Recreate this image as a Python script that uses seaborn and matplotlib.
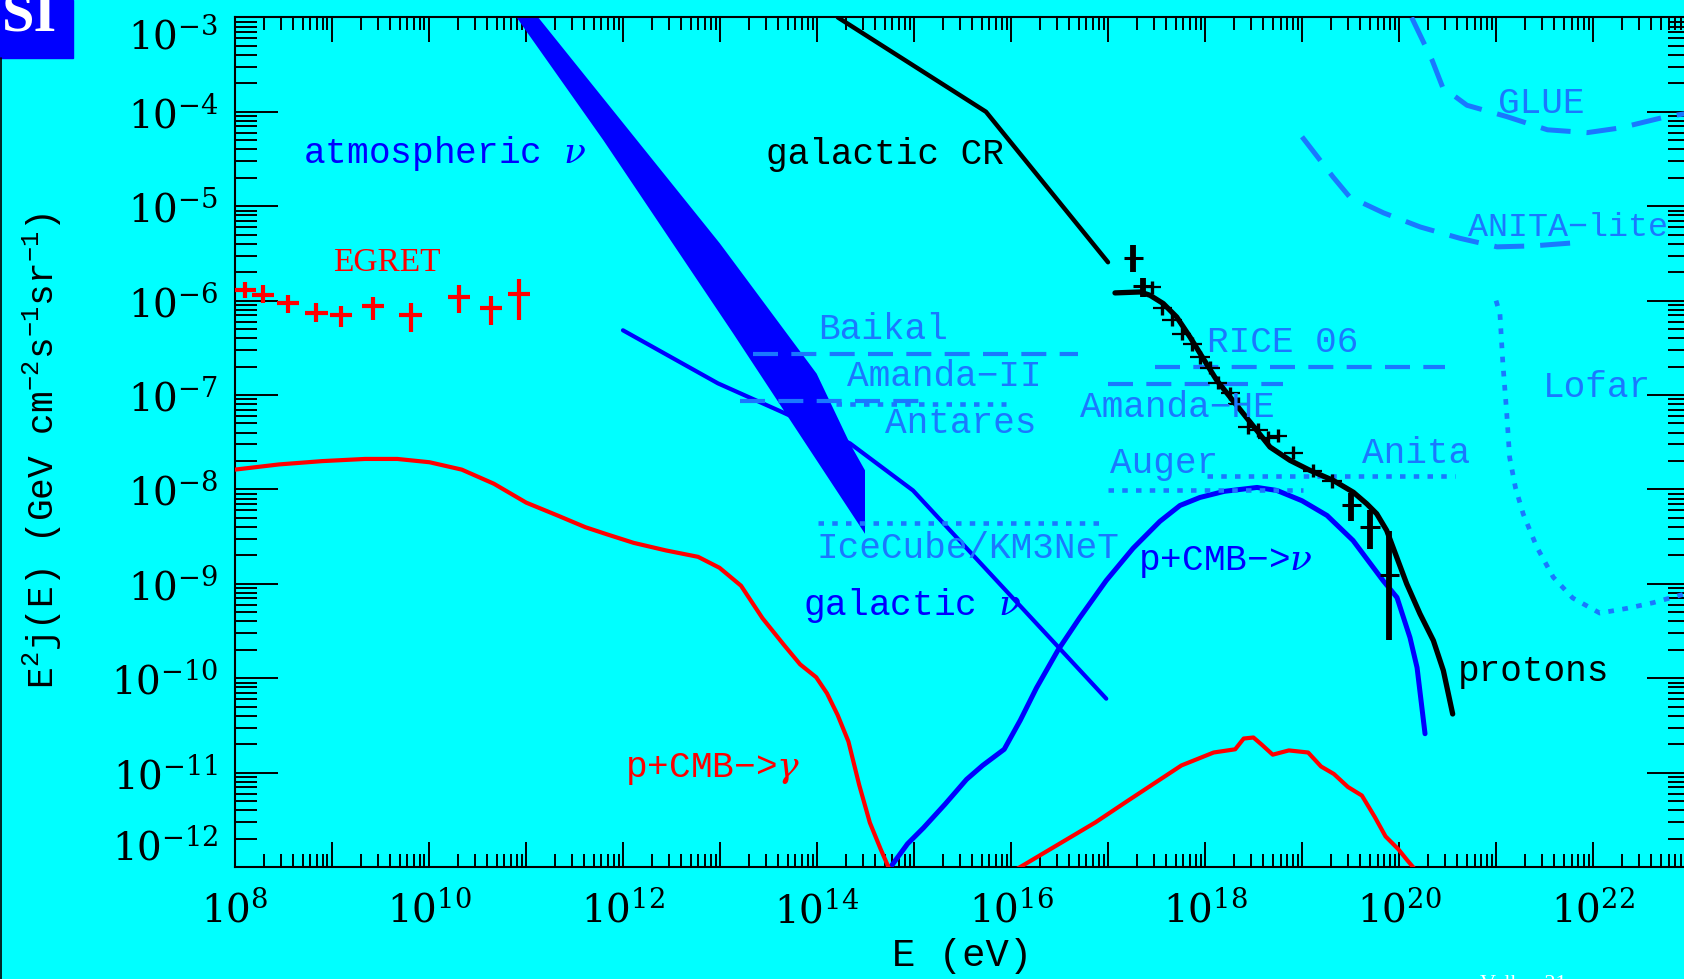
import matplotlib
matplotlib.use("Agg")
import matplotlib.pyplot as plt
import matplotlib.ticker as mticker
from matplotlib.patches import Rectangle
from matplotlib.lines import Line2D
import numpy as np
import pandas as pd
import seaborn as sns

# ------------------------------------------------------------------
# Data: log10 E [eV]  and  log10 E^2 j(E) [GeV cm^-2 s^-1 sr^-1]
# ------------------------------------------------------------------
# atmospheric neutrino band (upper / lower boundary)
atm_up_logE = [11.127, 13.0, 13.997, 14.340, 14.495, 14.495]
atm_up_logF = [-3.0, -5.395, -6.774, -7.515, -7.798, -8.47]
atm_lo_logE = [10.904, 11.797, 13.137, 14.495]
atm_lo_logF = [-3.0, -4.299, -6.349, -8.47]

# galactic neutrinos
galnu_logE = [12.0, 12.979, 13.649, 14.340, 14.990, 16.982]
galnu_logF = [-6.314, -6.876, -7.184, -7.512, -8.011, -10.217]

# galactic cosmic rays
galcr_logE = [14.216, 15.742, 17.0]
galcr_logF = [-3.0, -3.999, -5.593]

# extragalactic protons
prot_logE = [17.072, 17.330, 17.433, 17.570, 17.708, 17.845, 17.982, 18.121,
             18.258, 18.395, 18.533, 18.670, 18.876, 19.082, 19.323, 19.529,
             19.667, 19.770, 19.873, 19.976, 20.079, 20.216, 20.354, 20.457,
             20.553]
prot_logF = [-5.918, -5.908, -5.943, -6.031, -6.173, -6.385, -6.614, -6.844,
             -7.021, -7.197, -7.374, -7.551, -7.692, -7.798, -7.905, -8.03,
             -8.152, -8.258, -8.435, -8.718, -9.0, -9.318, -9.601, -9.919,
             -10.379]

# cosmogenic neutrinos  p + CMB -> nu
cmbnu_logE = [14.745, 14.933, 15.099, 15.321, 15.542, 15.708, 15.930, 16.096,
              16.262, 16.483, 16.705, 16.982, 17.259, 17.535, 17.742, 17.948,
              18.200, 18.536, 18.742, 19.0, 19.258, 19.526, 19.835, 19.979,
              20.113, 20.186, 20.268]
cmbnu_logF = [-12.02, -11.755, -11.584, -11.334, -11.072, -10.924, -10.753,
              -10.445, -10.104, -9.705, -9.364, -8.965, -8.623, -8.338, -8.17,
              -8.085, -8.02, -7.979, -8.011, -8.12, -8.276, -8.541, -8.965,
              -9.145, -9.57, -9.888, -10.588]

# photons from cascades (low-energy branch)  p + CMB -> gamma
cmbg1_logE = [8.0, 8.456, 8.899, 9.342, 9.674, 10.006, 10.338, 10.670, 11.003,
              11.335, 11.612, 11.833, 12.110, 12.442, 12.774, 12.995, 13.217,
              13.438, 13.660, 13.826, 13.992, 14.103, 14.213, 14.324, 14.435,
              14.545, 14.656, 14.745]
cmbg1_logF = [-7.79, -7.735, -7.70, -7.677, -7.677, -7.712, -7.79, -7.94,
              -8.14, -8.28, -8.40, -8.475, -8.566, -8.646, -8.714, -8.83,
              -9.02, -9.364, -9.648, -9.853, -9.99, -10.16, -10.39, -10.67,
              -11.13, -11.53, -11.81, -12.02]

# photons, high-energy branch
cmbg2_logE = [16.063, 16.871, 17.203, 17.757, 18.089, 18.311, 18.399, 18.499,
              18.588, 18.698, 18.864, 19.063, 19.196, 19.329, 19.473, 19.617,
              19.750, 19.861, 19.993, 20.082, 20.160]
cmbg2_logF = [-12.02, -11.527, -11.299, -10.924, -10.787, -10.753, -10.639,
              -10.628, -10.707, -10.81, -10.765, -10.787, -10.935, -11.015,
              -11.152, -11.243, -11.47, -11.676, -11.812, -11.925, -12.02]

# EGRET diffuse gamma-ray points
egret_logE = [8.10, 8.29, 8.55, 8.84, 9.09, 9.42, 9.81, 10.31, 10.64, 10.93]
egret_logF = [-5.890, -5.943, -6.028, -6.134, -6.155, -6.059, -6.155, -5.964,
              -6.080, -5.932]
egret_hi = [-5.805, -5.837, -5.943, -6.028, -6.059, -5.964, -6.028, -5.837,
            -5.953, -5.773]
egret_lo = [-5.975, -6.028, -6.134, -6.229, -6.282, -6.208, -6.335, -6.134,
            -6.261, -6.208]

# cosmic ray flux measurements (fine crosses)
cra_logE = [17.45, 17.56, 17.66, 17.76, 17.87, 17.95, 18.05, 18.13, 18.26,
            18.34, 18.44, 18.55, 18.65, 18.75, 18.91, 19.11, 19.31]
cra_logF = [-5.86, -6.08, -6.20, -6.35, -6.46, -6.60, -6.71, -6.87, -6.98,
            -7.09, -7.34, -7.37, -7.45, -7.43, -7.61, -7.80, -7.91]
cra_hi = [-5.79, -6.01, -6.13, -6.28, -6.39, -6.53, -6.64, -6.80, -6.91,
          -7.02, -7.27, -7.30, -7.38, -7.36, -7.54, -7.73, -7.84]
cra_lo = [-5.93, -6.15, -6.27, -6.42, -6.53, -6.67, -6.78, -6.94, -7.05,
          -7.16, -7.41, -7.44, -7.52, -7.50, -7.68, -7.87, -7.98]

# cosmic ray flux measurements (bold crosses)
crb_logE = [17.26, 17.36, 19.51, 19.70, 19.90]
crb_logF = [-5.55, -5.84, -8.17, -8.40, -8.91]
crb_hi = [-5.41, -5.76, -8.04, -8.22, -8.44]
crb_lo = [-5.70, -5.96, -8.33, -8.63, -9.60]

# experimental sensitivities: horizontal limits (E range, level)
baikal_logE, baikal_logF = [13.34, 16.69], -6.561
amanda2_logE, amanda2_logF = [13.21, 15.10], -7.065
antares_logE, antares_logF = [14.20, 15.95], -7.100
icecube_logE, icecube_logF = [14.01, 16.98], -8.360
rice_logE, rice_logF = [17.485, 20.47], -6.703
amandahe_logE, amandahe_logF = [17.0, 18.80], -6.887
auger_logE, auger_logF = [17.0, 19.01], -8.003
anita_logE, anita_logF = [18.02, 20.58], -7.862

# experimental sensitivities: curved limits
glue_logE = [20.13, 20.34, 20.45, 20.70, 21.11, 21.53, 21.94, 22.28, 22.76, 22.95]
glue_logF = [-3.0, -3.45, -3.74, -3.93, -4.05, -4.19, -4.22, -4.17, -4.05, -4.02]
anitalite_logE = [19.0, 19.11, 19.32, 19.49, 19.84, 20.22, 20.63, 21.01, 21.38, 21.90]
anitalite_logF = [-4.264, -4.41, -4.69, -4.90, -5.07, -5.22, -5.34, -5.43, -5.42, -5.38]
lofar_logE = [21.0, 21.04, 21.07, 21.11, 21.14, 21.20, 21.28, 21.42, 21.59,
              21.79, 22.07, 22.35, 22.62, 22.90, 23.0]
lofar_logF = [-6.0, -6.137, -6.66, -7.19, -7.66, -7.98, -8.26, -8.61, -8.93,
              -9.15, -9.31, -9.26, -9.20, -9.12, -9.09]

xtick_exponents = list(range(8, 24))
xlabel_exponents = [8, 10, 12, 14, 16, 18, 20, 22]
ytick_exponents = list(range(-12, -2))

# ------------------------------------------------------------------
# Styling
# ------------------------------------------------------------------
sns.set_theme(style="ticks")
plt.rcParams["font.family"] = ["Liberation Mono", "DejaVu Sans"]
plt.rcParams["mathtext.fontset"] = "dejavuserif"
plt.rcParams["mathtext.default"] = "regular"

CYAN = "#00ffff"
BLUE = "#0000ff"
RED = "#ff0000"
LIM = "#1a78ff"
DASH = (0, (6, 3.2))
DOT = (0, (1.2, 1.8))
FS = 26

fig = plt.figure(figsize=(16.84, 9.7905), dpi=100, facecolor=CYAN)
ax = fig.add_axes([0.1395, 0.1144, 0.8641, 0.8677])
ax.set_facecolor(CYAN)
ax.set_xscale("log")
ax.set_yscale("log")
ax.set_xlim(1e8, 1e23)
ax.set_ylim(1e-12, 1e-3)


def p10(v):
    return 10.0 ** np.asarray(v, dtype=float)


def curve(logE, logF, color, lw, z=3):
    df = pd.DataFrame({"E": p10(logE), "F": p10(logF)})
    sns.lineplot(data=df, x="E", y="F", ax=ax, sort=False, estimator=None,
                 color=color, linewidth=lw, legend=False, zorder=z)


def limit(logE, logF, ls, lw=3.0):
    ax.plot(p10(logE), p10([logF, logF]), color=LIM, lw=lw, ls=ls,
            dash_capstyle="butt", zorder=4)


def crosses(logE, logF, hi, lo, color, xw, yw, half=0.1):
    E = p10(logE)
    F = p10(logF)
    xerr = [E - E * 10 ** (-half), E * 10 ** half - E]
    yerr = [F - p10(lo), p10(hi) - F]
    ax.errorbar(E, F, xerr=xerr, fmt="none", ecolor=color, elinewidth=xw,
                capsize=0, zorder=6)
    ax.errorbar(E, F, yerr=yerr, fmt="none", ecolor=color, elinewidth=yw,
                capsize=0, zorder=6)


# atmospheric neutrino band
ax.fill(np.concatenate([p10(atm_up_logE), p10(atm_lo_logE)[::-1]]),
        np.concatenate([p10(atm_up_logF), p10(atm_lo_logF)[::-1]]),
        color=BLUE, lw=0, zorder=2)

curve(galnu_logE, galnu_logF, BLUE, 3.0)
curve(cmbnu_logE, cmbnu_logF, BLUE, 3.6)
curve(cmbg1_logE, cmbg1_logF, RED, 3.0)
curve(cmbg2_logE, cmbg2_logF, RED, 3.0)
curve(galcr_logE, galcr_logF, "black", 3.2, z=5)
curve(prot_logE, prot_logF, "black", 3.8, z=5)

# sensitivities
limit(baikal_logE, baikal_logF, DASH)
limit(amanda2_logE, amanda2_logF, DASH)
limit(antares_logE, antares_logF, DOT, lw=3.3)
limit(icecube_logE, icecube_logF, DOT, lw=3.3)
limit(rice_logE, rice_logF, DASH)
limit(amandahe_logE, amandahe_logF, DASH)
limit(auger_logE, auger_logF, DOT, lw=3.3)
limit(anita_logE, anita_logF, DOT, lw=3.3)
ax.plot(p10(glue_logE), p10(glue_logF), color=LIM, lw=3.6, ls=DASH, zorder=4)
ax.plot(p10(anitalite_logE), p10(anitalite_logF), color=LIM, lw=3.6, ls=DASH, zorder=4)
ax.plot(p10(lofar_logE), p10(lofar_logF), color=LIM, lw=3.4, ls=DOT, zorder=4)

# data points
crosses(egret_logE, egret_logF, egret_hi, egret_lo, RED, 3.0, 3.0, half=0.115)
crosses(cra_logE, cra_logF, cra_hi, cra_lo, "black", 1.6, 2.4, half=0.1)
crosses(crb_logE, crb_logF, crb_hi, crb_lo, "black", 2.2, 4.2, half=0.1)

# annotations: text, log E, log F, colour, font size
labels = [
    ("atmospheric $\\mathit{\\nu}$", 8.70, -4.44, BLUE, FS),
    ("galactic CR", 13.47, -4.45, "black", FS),
    ("Baikal", 14.01, -6.30, LIM, FS),
    ("Amanda\u2212II", 14.31, -6.80, LIM, FS),
    ("Antares", 14.70, -7.30, LIM, FS),
    ("IceCube/KM3NeT", 14.00, -8.62, LIM, FS),
    ("galactic $\\mathit{\\nu}$", 13.86, -9.23, BLUE, FS),
    ("p+CMB\u2212>$\\mathit{\\nu}$", 17.31, -8.77, BLUE, FS),
    ("p+CMB\u2212>$\\mathit{\\gamma}$", 12.02, -10.96, RED, FS),
    ("protons", 20.61, -9.93, "black", FS),
    ("RICE 06", 18.02, -6.44, LIM, FS),
    ("Amanda\u2212HE", 16.71, -7.13, LIM, FS),
    ("Auger", 17.02, -7.72, LIM, FS),
    ("Anita", 19.62, -7.62, LIM, FS),
    ("GLUE", 21.02, -3.91, LIM, FS),
    ("ANITA\u2212lite", 20.71, -5.22, LIM, 24),
    ("Lofar", 21.48, -6.92, LIM, FS),
]
for text, lx, ly, col, size in labels:
    ax.text(10 ** lx, 10 ** ly, text, color=col, fontsize=size, ha="left",
            va="center", zorder=7)
ax.text(10 ** 9.01, 10 ** -5.60, "EGRET", color=RED, fontsize=24,
        family="Liberation Serif", ha="left", va="center", zorder=7)

# axes, ticks
ax.xaxis.set_major_locator(mticker.FixedLocator(p10(xtick_exponents)))
ax.xaxis.set_minor_locator(mticker.LogLocator(base=10, subs=np.arange(2, 10), numticks=400))
ax.xaxis.set_major_formatter(mticker.FuncFormatter(
    lambda v, pos: (r"$\mathdefault{10^{%d}}$" % int(round(np.log10(v))))
    if int(round(np.log10(v))) in xlabel_exponents else ""))
ax.xaxis.set_minor_formatter(mticker.NullFormatter())
ax.yaxis.set_major_locator(mticker.FixedLocator(p10(ytick_exponents)))
ax.yaxis.set_minor_locator(mticker.LogLocator(base=10, subs=np.arange(2, 10), numticks=400))
ax.yaxis.set_major_formatter(mticker.FuncFormatter(
    lambda v, pos: r"$\mathdefault{10^{%d}}$" % int(round(np.log10(v)))))
ax.yaxis.set_minor_formatter(mticker.NullFormatter())

ax.tick_params(axis="both", which="both", direction="in", top=True, right=True,
               width=1.4, color="black", labelcolor="black",
               labelfontfamily="DejaVu Serif")
ax.tick_params(axis="x", which="major", length=18, pad=17, labelsize=28)
ax.tick_params(axis="x", which="minor", length=9.5)
ax.tick_params(axis="y", which="major", length=31, pad=12, labelsize=28)
ax.tick_params(axis="y", which="minor", length=16)
for sp in ax.spines.values():
    sp.set_color("black")
    sp.set_linewidth(1.5)

# keep the end labels of the y axis inside the frame
yticks = ax.yaxis.get_major_ticks()
yticks[0].label1.set_va("bottom")
yticks[-1].label1.set_va("top")

ax.set_xlabel("E (eV)", fontsize=28, color="black")
ax.xaxis.set_label_coords(0.5, -0.105)
ax.xaxis.label.set_va("center")
ax.set_ylabel("E$^{2}$j(E) (GeV cm$^{-2}$s$^{-1}$sr$^{-1}$)", fontsize=FS, color="black")
ax.yaxis.set_label_coords(-0.132, 0.49)
ax.yaxis.label.set_va("center")

# page decorations
fig.add_artist(Rectangle((0, 1 - 58 / 979), 73 / 1684, 58 / 979,
                         transform=fig.transFigure, color=BLUE, zorder=1))
fig.text(2 / 1684, 1 - 30 / 979, "SI", color="white", fontsize=42,
         family="Liberation Serif", weight="bold", va="baseline", zorder=2)
fig.add_artist(Line2D([0.0006, 0.0006], [0, 1 - 58 / 979], color="black",
                      lw=1.2, transform=fig.transFigure))
fig.text(1480 / 1684, 1 - 975 / 979, "Volker 21", color="white", fontsize=16,
         family="Liberation Serif", va="top")

fig.savefig("out.png", dpi=100, facecolor=CYAN)
